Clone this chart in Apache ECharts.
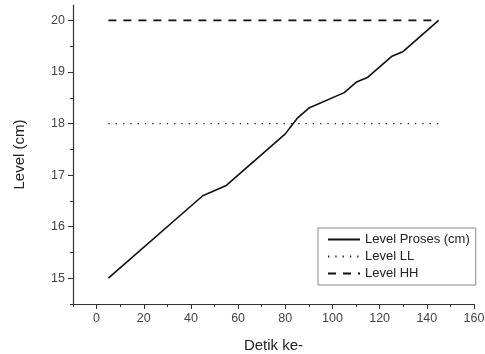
<!DOCTYPE html>
<html>
<head>
<meta charset="utf-8">
<script src="https://cdn.jsdelivr.net/npm/echarts@6/dist/echarts.min.js"></script>
<style>
  html, body { margin: 0; padding: 0; background: #fff; }
  #chart { width: 485px; height: 354px; }
</style>
</head>
<body>
<div id="chart"></div>
<script>
// level proses (cm) vs time
const detik = [5, 45, 55, 80, 85, 90, 105, 110, 115, 125, 130, 145];
const levelProses = [15, 16.6, 16.8, 17.8, 18.1, 18.3, 18.6, 18.8, 18.9, 19.3, 19.4, 20];
// setpoint lines
const limitX = [5, 145];
const levelLL = [18, 18];
const levelHH = [20, 20];
// ticks
const xMajor = [0, 20, 40, 60, 80, 100, 120, 140, 160];
const xMinor = [-10, 10, 30, 50, 70, 90, 110, 130, 150];
const yMajor = [15, 16, 17, 18, 19, 20];
const yMinor = [14.5, 15.5, 16.5, 17.5, 18.5, 19.5];

const pairs = (xs, ys) => xs.map((x, i) => [x, ys[i]]);

const chart = echarts.init(document.getElementById("chart"));
const font = "Liberation Sans, Arial, sans-serif";
const axisColor = "#333";

chart.setOption({
  animation: false,
  textStyle: { fontFamily: font },
  grid: { left: 73, right: 11, top: 5, bottom: 50, outerBoundsMode: "none" },
  xAxis: [
    {
      type: "value",
      min: -10,
      max: 160,
      name: "Detik ke-",
      nameLocation: "middle",
      nameGap: 34,
      nameTextStyle: { fontSize: 15, color: "#222" },
      axisLine: { onZero: false, lineStyle: { color: axisColor, width: 1.2 } },
      axisTick: { length: 5, customValues: xMajor, lineStyle: { color: axisColor } },
      axisLabel: { color: "#444", fontSize: 12.5, margin: 8, customValues: xMajor },
      splitLine: { show: false },
    },
    {
      // minor ticks only
      type: "value",
      min: -10,
      max: 160,
      position: "bottom",
      axisLine: { show: false, onZero: false },
      axisTick: { length: 3, customValues: xMinor, lineStyle: { color: axisColor } },
      axisLabel: { show: false },
      splitLine: { show: false },
    },
  ],
  yAxis: [
    {
      type: "value",
      min: 14.5,
      max: 20.3,
      name: "Level (cm)",
      nameLocation: "middle",
      nameGap: 46,
      nameTextStyle: { fontSize: 15, color: "#222" },
      axisLine: { show: true, onZero: false, lineStyle: { color: axisColor, width: 1.2 } },
      axisTick: { show: true, length: 5, customValues: yMajor, lineStyle: { color: axisColor } },
      axisLabel: { color: "#444", fontSize: 12.5, margin: 8, customValues: yMajor },
      splitLine: { show: false },
    },
    {
      type: "value",
      min: 14.5,
      max: 20.3,
      position: "left",
      axisLine: { show: false, onZero: false },
      axisTick: { show: true, length: 3, customValues: yMinor, lineStyle: { color: axisColor } },
      axisLabel: { show: false },
      splitLine: { show: false },
    },
  ],
  legend: {
    orient: "vertical",
    left: 318,
    top: 228,
    padding: [5, 6, 5, 9],
    itemWidth: 32,
    itemHeight: 12,
    itemGap: 4,
    borderColor: "#888",
    borderWidth: 1,
    itemStyle: { opacity: 0, borderWidth: 0 },
    textStyle: { fontSize: 13, color: "#222", fontFamily: font },
    data: ["Level Proses (cm)", "Level LL", "Level HH"],
  },
  series: [
    {
      name: "Level Proses (cm)",
      type: "line",
      data: pairs(detik, levelProses),
      symbol: "none",
      lineStyle: { color: "#111", width: 1.6 },
      itemStyle: { color: "#111" },
    },
    {
      name: "Level LL",
      type: "line",
      data: pairs(limitX, levelLL),
      symbol: "none",
      lineStyle: { color: "#222", width: 1.3, type: [1.3, 6] },
      itemStyle: { color: "#222" },
    },
    {
      name: "Level HH",
      type: "line",
      data: pairs(limitX, levelHH),
      symbol: "none",
      lineStyle: { color: "#111", width: 1.8, type: [8, 7] },
      itemStyle: { color: "#111" },
    },
  ],
});
</script>
</body>
</html>
